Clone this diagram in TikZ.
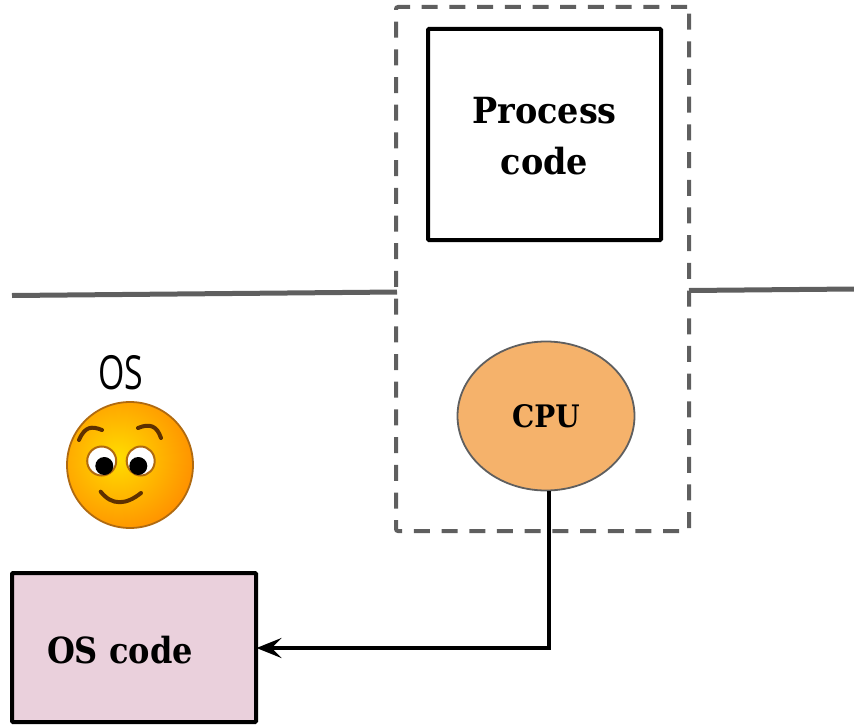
\documentclass[tikz,border=0pt]{standalone}
\usepackage{fontspec}
\setmainfont{DejaVu Serif}
\newfontfamily\labelfont{Open Sans}
\usetikzlibrary{arrows.meta,shapes.geometric,calc}
\definecolor{dashgray}{HTML}{5F5F5F}
\definecolor{cpufill}{HTML}{F5B26B}
\definecolor{osfill}{HTML}{EAD0DC}
\definecolor{smileedge}{HTML}{B06A10}
\definecolor{browcol}{HTML}{5E3000}
\definecolor{smileouter}{HTML}{FF8C00}
\definecolor{smileinner}{HTML}{FFDD00}
\tikzset{
  codebox/.style={draw=black,line width=4pt,rounded corners=1pt,align=center,font=\fontsize{36}{51}\selectfont\bfseries,inner sep=0pt},
  boundary/.style={draw=dashgray,line width=5pt},
  tray/.style={draw=dashgray,line width=4pt,dash pattern=on 16pt off 11.7pt,rounded corners=2pt},
  cpunode/.style={ellipse,draw=dashgray,line width=1.8pt,fill=cpufill,inner sep=0pt,font=\fontsize{31}{36}\selectfont\bfseries},
  link/.style={draw=black,line width=3.6pt,shorten >=-1.5pt,-{Stealth[length=25pt,width=20pt,inset=10pt]}},
  brow/.style={draw=browcol,line width=4pt,line cap=round},
}
\begin{document}
\begin{tikzpicture}[x=1pt,y=-1pt]
\useasboundingbox (0,0) rectangle (854,725);
% tray
\node[tray,minimum width=293pt,minimum height=524pt] (tray) at (542.5,269) {};
% boundary
\coordinate (la) at (12,295.5);
\coordinate (ra) at (854,289);
\coordinate (lb) at (397,292);
\coordinate (rb) at (689,290.5);
\draw[boundary] (la) -- (lb);
\draw[boundary] (rb) -- (ra);
% nodes
\node[codebox,minimum width=233pt,minimum height=211pt] (proc) at (544.5,134.5) {};
\node[font=\fontsize{36}{51}\selectfont\bfseries,align=center,inner sep=0pt] (proclabel) at (544.5,136.5) {\scalebox{0.93}[1]{Process}\\\scalebox{0.93}[1]{code}};
\node[cpunode,minimum width=177pt,minimum height=149pt] (cpu) at (546,416) {\scalebox{0.9}[1]{CPU}};
\node[codebox,fill=osfill,minimum width=244pt,minimum height=149pt] (os) at (134,647.5) {};
\node[font=\fontsize{36}{40}\selectfont\bfseries] (oslabel) at (120,650) {\scalebox{0.89}[1]{OS code}};
\node[font=\labelfont\fontsize{47}{50}\selectfont,inner sep=0pt] (ostext) at (121,373) {\scalebox{0.72}[1]{OS}};
% connector
\coordinate (bend) at (549,648);
\draw[link] (cpu.south -| bend) -- (bend) -- (os.east |- bend);
% smiley
\begin{scope}
\clip (130,465) circle[radius=63];
\shade[inner color=smileinner,outer color=smileouter] (118,458) circle[radius=82];
\end{scope}
\draw[smileedge,line width=1.8pt] (130,465) circle[radius=63];
\draw[smileedge,fill=white,line width=2pt] (101.7,461) ellipse[x radius=14.5,y radius=14.5];
\draw[smileedge,fill=white,line width=2pt] (140.7,461) ellipse[x radius=14,y radius=14.5];
\fill[black] (104.3,466) circle[radius=9];
\fill[black] (138.3,466) circle[radius=9];
\draw[brow] (79,440) .. controls (85,426) and (92,426) .. (102,430);
\draw[brow] (138,428) .. controls (150,423) and (157,426) .. (161,438);
\draw[brow] (100.7,491.7) .. controls (112,506) and (126,505) .. (141,493);
\end{tikzpicture}
\end{document}
